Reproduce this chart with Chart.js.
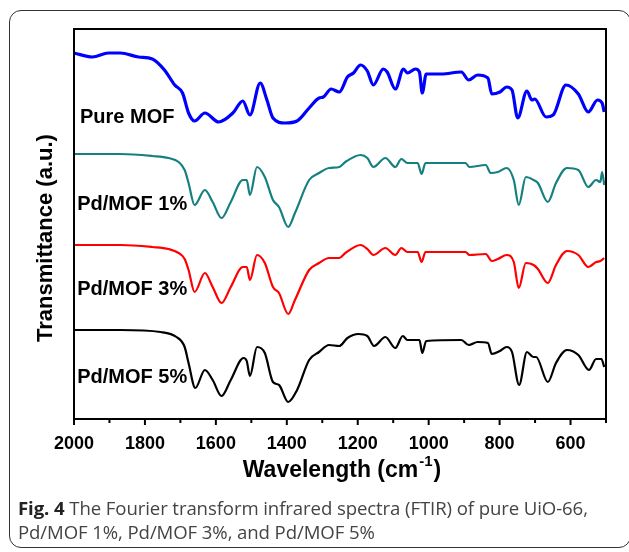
<!DOCTYPE html>
<html>
<head>
<meta charset="utf-8">
<script src="https://cdn.jsdelivr.net/npm/chart.js@4.4.0/dist/chart.umd.min.js"></script>
<style>
  body { margin: 0; background: #fff; }
  #wrap { position: relative; width: 629px; height: 552px; overflow: hidden; }
  #frame {
    position: absolute; left: 9px; top: 10px; width: 622px; height: 538px;
    border: 1.5px solid #333; border-radius: 12px; box-sizing: border-box;
  }
  #plot { position: absolute; left: 0; top: 0; }
  #caption {
    position: absolute; left: 18px; top: 496px; width: 608px;
    font-family: "Open Sans", sans-serif; font-size: 18.6px; line-height: 24px; color: #444;
    letter-spacing: -0.1px;
  }
  #caption b { color: #222; }
</style>
</head>
<body>
<div id="wrap">
  <div id="frame"></div>
  <canvas id="plot" width="629" height="500"></canvas>
  <div id="caption"><b>Fig. 4</b> The Fourier transform infrared spectra (FTIR) of pure UiO-66, Pd/MOF 1%, Pd/MOF 3%, and Pd/MOF 5%</div>
</div>
<script>
// wavenumber (cm-1) and transmittance (a.u., curves stacked by offset)
const pureX = [2000, 1948, 1903, 1869, 1818, 1779, 1745, 1716, 1694, 1677, 1660, 1631, 1592, 1552, 1524, 1504, 1475, 1456, 1439, 1405, 1371, 1337, 1309, 1297, 1275, 1252, 1229, 1212, 1192, 1173, 1156, 1128, 1117, 1094, 1071, 1060, 1037, 1026, 1018, 1007, 964, 908, 887, 862, 833, 822, 799, 780, 765, 749, 723, 709, 701, 669, 649, 613, 578, 550, 524, 511, 505];
const pureY = [366, 362, 366, 366, 362, 360, 349, 334, 326, 306, 298, 306, 297, 306, 318, 304, 336, 319, 301, 296, 298, 311, 321, 322, 330, 327, 342, 346, 354, 348, 334, 350, 347, 330, 350, 346, 350, 347, 326, 345, 345, 347, 339, 344, 341, 325, 327, 332, 329, 301, 328, 319, 320, 302, 304, 334, 325, 307, 319, 316, 307];

const mof1X = [2000, 1869, 1779, 1733, 1705, 1688, 1677, 1660, 1631, 1609, 1584, 1558, 1524, 1513, 1504, 1484, 1462, 1439, 1422, 1396, 1377, 1337, 1309, 1281, 1252, 1235, 1192, 1173, 1156, 1122, 1094, 1077, 1060, 1031, 1020, 1009, 896, 885, 839, 825, 805, 780, 760, 746, 726, 704, 692, 664, 641, 610, 578, 550, 528, 516, 511, 505];
const mof1Y = [265, 265, 263, 261, 257, 249, 236, 214, 229, 217, 201, 217, 239, 239, 224, 252, 242, 219, 212, 192, 206, 239, 246, 251, 252, 257, 264, 261, 252, 261, 252, 260, 256, 256, 245, 256, 256, 252, 254, 246, 247, 251, 239, 214, 242, 239, 236, 217, 236, 251, 249, 232, 239, 237, 247, 234];

const mof3X = [2000, 1869, 1779, 1733, 1705, 1688, 1677, 1660, 1631, 1609, 1584, 1558, 1524, 1513, 1504, 1484, 1462, 1439, 1422, 1396, 1377, 1337, 1309, 1281, 1252, 1235, 1192, 1173, 1156, 1122, 1094, 1077, 1060, 1031, 1020, 1009, 896, 885, 839, 822, 805, 780, 760, 746, 726, 704, 692, 664, 641, 610, 578, 550, 528, 516, 505];
const mof3Y = [174, 174, 172, 170, 166, 160, 149, 127, 146, 132, 116, 132, 152, 152, 139, 164, 156, 132, 126, 105, 119, 149, 156, 161, 161, 166, 174, 170, 164, 171, 164, 171, 167, 167, 157, 167, 167, 164, 165, 158, 160, 164, 157, 131, 156, 154, 150, 136, 154, 168, 164, 152, 157, 158, 161];

const mof5X = [2000, 1869, 1756, 1711, 1688, 1677, 1658, 1631, 1609, 1584, 1558, 1522, 1513, 1504, 1484, 1462, 1439, 1422, 1396, 1371, 1337, 1309, 1281, 1252, 1229, 1198, 1173, 1154, 1122, 1094, 1073, 1060, 1026, 1018, 1007, 908, 887, 862, 833, 822, 799, 780, 765, 745, 723, 705, 697, 664, 641, 610, 578, 548, 528, 513, 505];
const mof5Y = [89, 89, 87, 82, 72, 56, 31, 49, 39, 23, 39, 61, 58, 43, 72, 66, 37, 34, 17, 29, 59, 67, 74, 73, 81, 85, 83, 73, 82, 71, 83, 79, 79, 66, 78, 79, 74, 77, 76, 65, 68, 72, 67, 34, 67, 62, 62, 37, 56, 69, 64, 49, 60, 60, 52];

const seriesNames = ['Pure MOF', 'Pd/MOF 1%', 'Pd/MOF 3%', 'Pd/MOF 5%'];
const seriesColors = ['#0000ff', '#168080', '#ff0000', '#000000'];
const xTicks = [2000, 1800, 1600, 1400, 1200, 1000, 800, 600];

function pts(xs, ys) {
    return xs.map((x, i) => ({ x: x, y: ys[i] }));
}

const FONT = '"Liberation Sans", Arial, sans-serif';

// frame, ticks, axis titles and curve labels
const decorations = {
    id: 'decorations',
    afterDraw(chart) {
        const ctx = chart.ctx;
        const a = chart.chartArea;
        const xs = chart.scales.x;
        const ys = chart.scales.y;
        ctx.save();
        ctx.strokeStyle = '#000';
        ctx.lineWidth = 2;
        ctx.strokeRect(a.left, a.top, a.right - a.left, a.bottom - a.top);

        // tick marks, minor every 100
        for (let v = 500; v <= 2000; v += 100) {
            const px = xs.getPixelForValue(v);
            const len = v % 200 === 0 ? 6 : 4;
            ctx.beginPath();
            ctx.moveTo(px, a.bottom);
            ctx.lineTo(px, a.bottom + len);
            ctx.stroke();
        }

        ctx.fillStyle = '#000';
        // x title with superscript
        ctx.textBaseline = 'alphabetic';
        ctx.textAlign = 'left';
        const big = 'bold 23px ' + FONT;
        const small = 'bold 15px ' + FONT;
        ctx.font = big;
        const t1 = 'Wavelength (cm', t3 = ')';
        const w1 = ctx.measureText(t1).width;
        const w3 = ctx.measureText(t3).width;
        ctx.font = small;
        const w2 = ctx.measureText('-1').width;
        const total = w1 + w2 + w3;
        let tx = (a.left + a.right) / 2 - total / 2 + 1;
        const base = 477;
        ctx.font = big;
        ctx.fillText(t1, tx, base);
        ctx.font = small;
        ctx.fillText('-1', tx + w1 + 1, base - 11);
        ctx.font = big;
        ctx.fillText(t3, tx + w1 + w2 + 2, base);

        // y title
        ctx.save();
        ctx.translate(52, (a.top + a.bottom) / 2 + 14);
        ctx.rotate(-Math.PI / 2);
        ctx.textAlign = 'center';
        ctx.font = 'bold 22px ' + FONT;
        ctx.fillText('Transmittance (a.u.)', 0, 0);
        ctx.restore();

        // curve labels
        const labelAnchor = [[1983, 296], [1991, 209], [1991, 124], [1991, 36]];
        ctx.font = 'bold 20px ' + FONT;
        ctx.textAlign = 'left';
        seriesNames.forEach((name, i) => {
            ctx.fillText(name, xs.getPixelForValue(labelAnchor[i][0]), ys.getPixelForValue(labelAnchor[i][1]));
        });
        ctx.restore();
    }
};

const ctx = document.getElementById('plot').getContext('2d');
new Chart(ctx, {
    type: 'line',
    data: {
        datasets: [
            { label: seriesNames[0], data: pts(pureX, pureY), borderColor: seriesColors[0], borderWidth: 3.2 },
            { label: seriesNames[1], data: pts(mof1X, mof1Y), borderColor: seriesColors[1], borderWidth: 2.2 },
            { label: seriesNames[2], data: pts(mof3X, mof3Y), borderColor: seriesColors[2], borderWidth: 2.2 },
            { label: seriesNames[3], data: pts(mof5X, mof5Y), borderColor: seriesColors[3], borderWidth: 2.2 }
        ]
    },
    options: {
        responsive: false,
        animation: false,
        layout: { padding: { left: 74, right: 23, top: 29, bottom: 51 } },
        elements: {
            point: { radius: 0 },
            line: { cubicInterpolationMode: 'monotone', fill: false }
        },
        plugins: { legend: { display: false }, tooltip: { enabled: false } },
        scales: {
            x: {
                type: 'linear',
                reverse: true,
                min: 500,
                max: 2000,
                afterBuildTicks: (scale) => { scale.ticks = xTicks.map(v => ({ value: v })); },
                afterFit: (scale) => { scale.height = 30; },
                grid: { display: false },
                border: { display: false },
                ticks: {
                    color: '#000',
                    padding: 6,
                    maxRotation: 0,
                    font: { family: FONT, size: 18, weight: 'bold' },
                    callback: (v) => String(v)
                }
            },
            y: { display: false, min: 0, max: 390 }
        }
    },
    plugins: [decorations]
});
</script>
</body>
</html>
